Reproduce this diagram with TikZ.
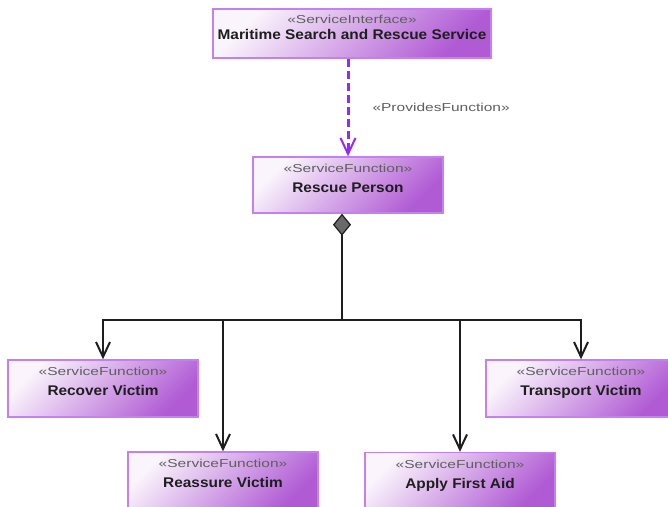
\documentclass[tikz,border=0pt]{standalone}
\usepackage{fontspec}
\setmainfont{Liberation Sans}
\newfontfamily\stereofont[FakeStretch=1.35]{Liberation Sans}
\newfontfamily\namefont[FakeStretch=1.1]{Liberation Sans}
\usepackage{xcolor}
\usepackage{tikz}
\usetikzlibrary{positioning,calc,arrows.meta}

\definecolor{boxlight}{RGB}{250,244,252}
\definecolor{boxdark}{RGB}{176,90,212}
\definecolor{boxedge}{RGB}{196,128,240}
\definecolor{provviolet}{RGB}{150,40,250}
\definecolor{stgray}{RGB}{95,95,95}
\definecolor{linkblack}{RGB}{30,30,30}
\definecolor{diagray}{RGB}{105,105,105}

\tikzset{
  svcbox/.style={rectangle, draw=boxedge, line width=1.4pt, top color=boxlight, bottom color=boxdark, shading angle=45, minimum width=190pt, minimum height=57pt, inner sep=0pt},
  stereo/.style={font=\stereofont\fontsize{11.5}{13}\selectfont, text=stgray, inner sep=0pt},
  svcname/.style={font=\namefont\bfseries\fontsize{14}{16}\selectfont, text=linkblack, inner sep=0pt},
  provides/.style={provviolet, line width=3pt, dash pattern=on 8pt off 4pt, -{Straight Barb[length=16pt,width=15pt,line width=2pt]}},
  decomp/.style={linkblack, line width=2pt, -{Straight Barb[length=15pt,width=14pt]}},
}

\begin{document}
\begin{tikzpicture}[x=1pt, y=-1pt]
  \fill[white] (0,0) rectangle (668,506);
  \useasboundingbox (0,0) rectangle (668,506);
  \clip (0,0) rectangle (668,506);

  % Service interface
  \node[svcbox, minimum width=278pt, minimum height=49pt] (mss) at (352,33.5) {};
  \node[stereo, anchor=base] (mss st) at ([yshift=-15pt]mss.north) {«ServiceInterface»};
  \node[svcname, anchor=base] (mss nm) at ([yshift=-31.5pt]mss.north) {Maritime Search and Rescue Service};

  % Top service function
  \node[svcbox, minimum height=56pt] (rescue) at (348,185) {};
  \node[stereo, anchor=base] (rescue st) at ([yshift=-16.5pt]rescue.north) {«ServiceFunction»};
  \node[svcname, anchor=base] (rescue nm) at ([yshift=-36.5pt]rescue.north) {Rescue Person};

  % Sub functions
  \node[svcbox] (recover) at (103,388.5) {};
  \node[stereo, anchor=base] (recover st) at ([yshift=-16.5pt]recover.north) {«ServiceFunction»};
  \node[svcname, anchor=base] (recover nm) at ([yshift=-36.5pt]recover.north) {Recover Victim};

  \node[svcbox] (reassure) at (223,480.5) {};
  \node[stereo, anchor=base] (reassure st) at ([yshift=-16.5pt]reassure.north) {«ServiceFunction»};
  \node[svcname, anchor=base] (reassure nm) at ([yshift=-36.5pt]reassure.north) {Reassure Victim};

  \node[svcbox] (firstaid) at (460,481) {};
  \node[stereo, anchor=base] (firstaid st) at ([yshift=-16.5pt]firstaid.north) {«ServiceFunction»};
  \node[svcname, anchor=base] (firstaid nm) at ([yshift=-36.5pt]firstaid.north) {Apply First Aid};

  \node[svcbox] (transport) at (581,388.5) {};
  \node[stereo, anchor=base] (transport st) at ([yshift=-16.5pt]transport.north) {«ServiceFunction»};
  \node[svcname, anchor=base] (transport nm) at ([yshift=-36.5pt]transport.north) {Transport Victim};

  % Provides relation
  \draw[provides] (mss.south -| rescue.north) -- node[stereo, midway, right=23pt] (pf) {«ProvidesFunction»} (rescue.north);

  % Decomposition
  \coordinate (bus) at (342,320);
  \draw[linkblack, line width=2pt, {Diamond[length=22pt,width=18pt,fill=diagray,line width=1.2pt]}-] ([xshift=-6pt]rescue.south) -- (bus);
  \draw[decomp] (bus) -| (recover.north);
  \draw[decomp] (bus) -| (reassure.north);
  \draw[decomp] (bus) -| (firstaid.north);
  \draw[decomp] (bus) -| (transport.north);
\end{tikzpicture}
\end{document}
